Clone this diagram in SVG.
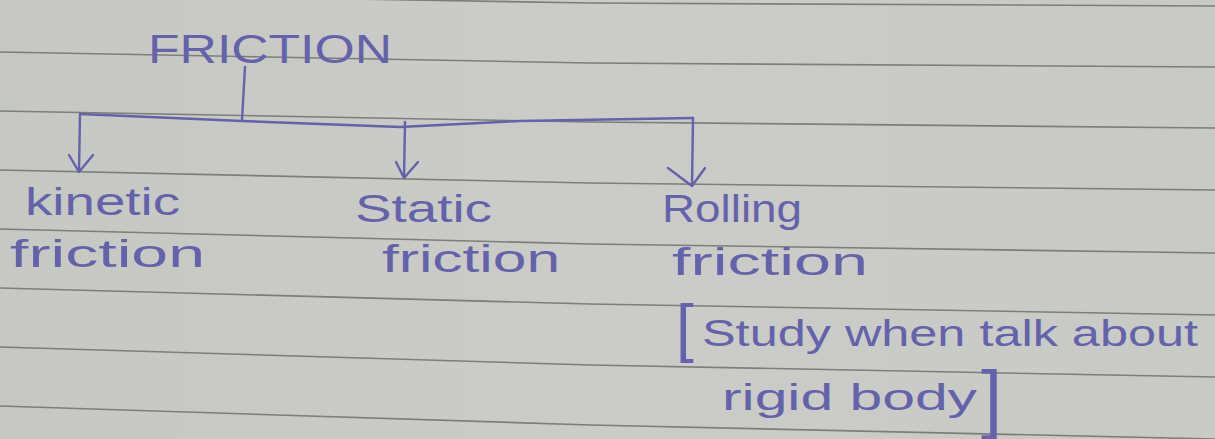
<svg xmlns="http://www.w3.org/2000/svg" width="1215" height="439" viewBox="0 0 1215 439">
<style>
.ink{fill:#6462ab;font-family:"Liberation Sans",Arial,sans-serif}
.rule{stroke:#7c7e7a;stroke-width:1.6;fill:none}
.pen{stroke:#6462ab;stroke-width:2.4;fill:none;stroke-linecap:round;stroke-linejoin:round}
</style>
<defs>
<linearGradient id="bg" x1="0" y1="0" x2="1" y2="0">
<stop offset="0" stop-color="#c6c8c2"/>
<stop offset="0.5" stop-color="#cbccc7"/>
<stop offset="1" stop-color="#c8cac5"/>
</linearGradient>
</defs>
<rect width="1215" height="439" fill="url(#bg)"/>
<g id="ruled-lines">
<path class="rule" d="M0,-7 L590,3 L1215,6"/>
<path class="rule" d="M0,52 L590,63 L1215,67"/>
<path class="rule" d="M0,111 L590,122 L1215,128"/>
<path class="rule" d="M0,170 L590,183 L1215,190"/>
<path class="rule" d="M0,229 L590,244 L1215,253"/>
<path class="rule" d="M0,288 L590,304 L1215,315"/>
<path class="rule" d="M0,347 L590,365 L1215,377"/>
<path class="rule" d="M0,406 L590,425 L1215,439"/>
</g>
<g id="connectors">
<path class="pen" d="M245,67 L242,120"/>
<path class="pen" d="M80,114 L242,121 L400,127 L520,121 L693,118"/>
<path class="pen" d="M80,114 L79,172 M69,155 L79,172 L93,155"/>
<path class="pen" d="M405,122 L404,178 M396,162 L404,178 L418,162"/>
<path class="pen" d="M693,118 L692,186 M668,168 L692,186 L705,168"/>
</g>
<g id="node-friction">
<text class="ink" x="148" y="63" font-size="41" textLength="244" lengthAdjust="spacingAndGlyphs">FRICTION</text>
</g>
<g id="node-kinetic">
<text class="ink" x="25" y="215" font-size="38" textLength="155" lengthAdjust="spacingAndGlyphs">kinetic</text>
<text class="ink" x="10" y="267" font-size="38" textLength="195" lengthAdjust="spacingAndGlyphs">friction</text>
</g>
<g id="node-static">
<text class="ink" x="355" y="222" font-size="38" textLength="137" lengthAdjust="spacingAndGlyphs">Static</text>
<text class="ink" x="382" y="272" font-size="38" textLength="178" lengthAdjust="spacingAndGlyphs">friction</text>
</g>
<g id="node-rolling">
<text class="ink" x="662" y="222" font-size="38" textLength="140" lengthAdjust="spacingAndGlyphs">Rolling</text>
<text class="ink" x="672" y="275" font-size="38" textLength="196" lengthAdjust="spacingAndGlyphs">friction</text>
<text class="ink" x="676" y="346" font-size="36"><tspan font-size="64" dy="4">[</tspan><tspan dy="-4" x="702" textLength="496" lengthAdjust="spacingAndGlyphs">Study when talk about</tspan></text>
<text class="ink" x="722" y="410" font-size="36"><tspan textLength="255" lengthAdjust="spacingAndGlyphs">rigid body</tspan><tspan font-size="76" dy="14" x="981">]</tspan></text>
</g>
</svg>
